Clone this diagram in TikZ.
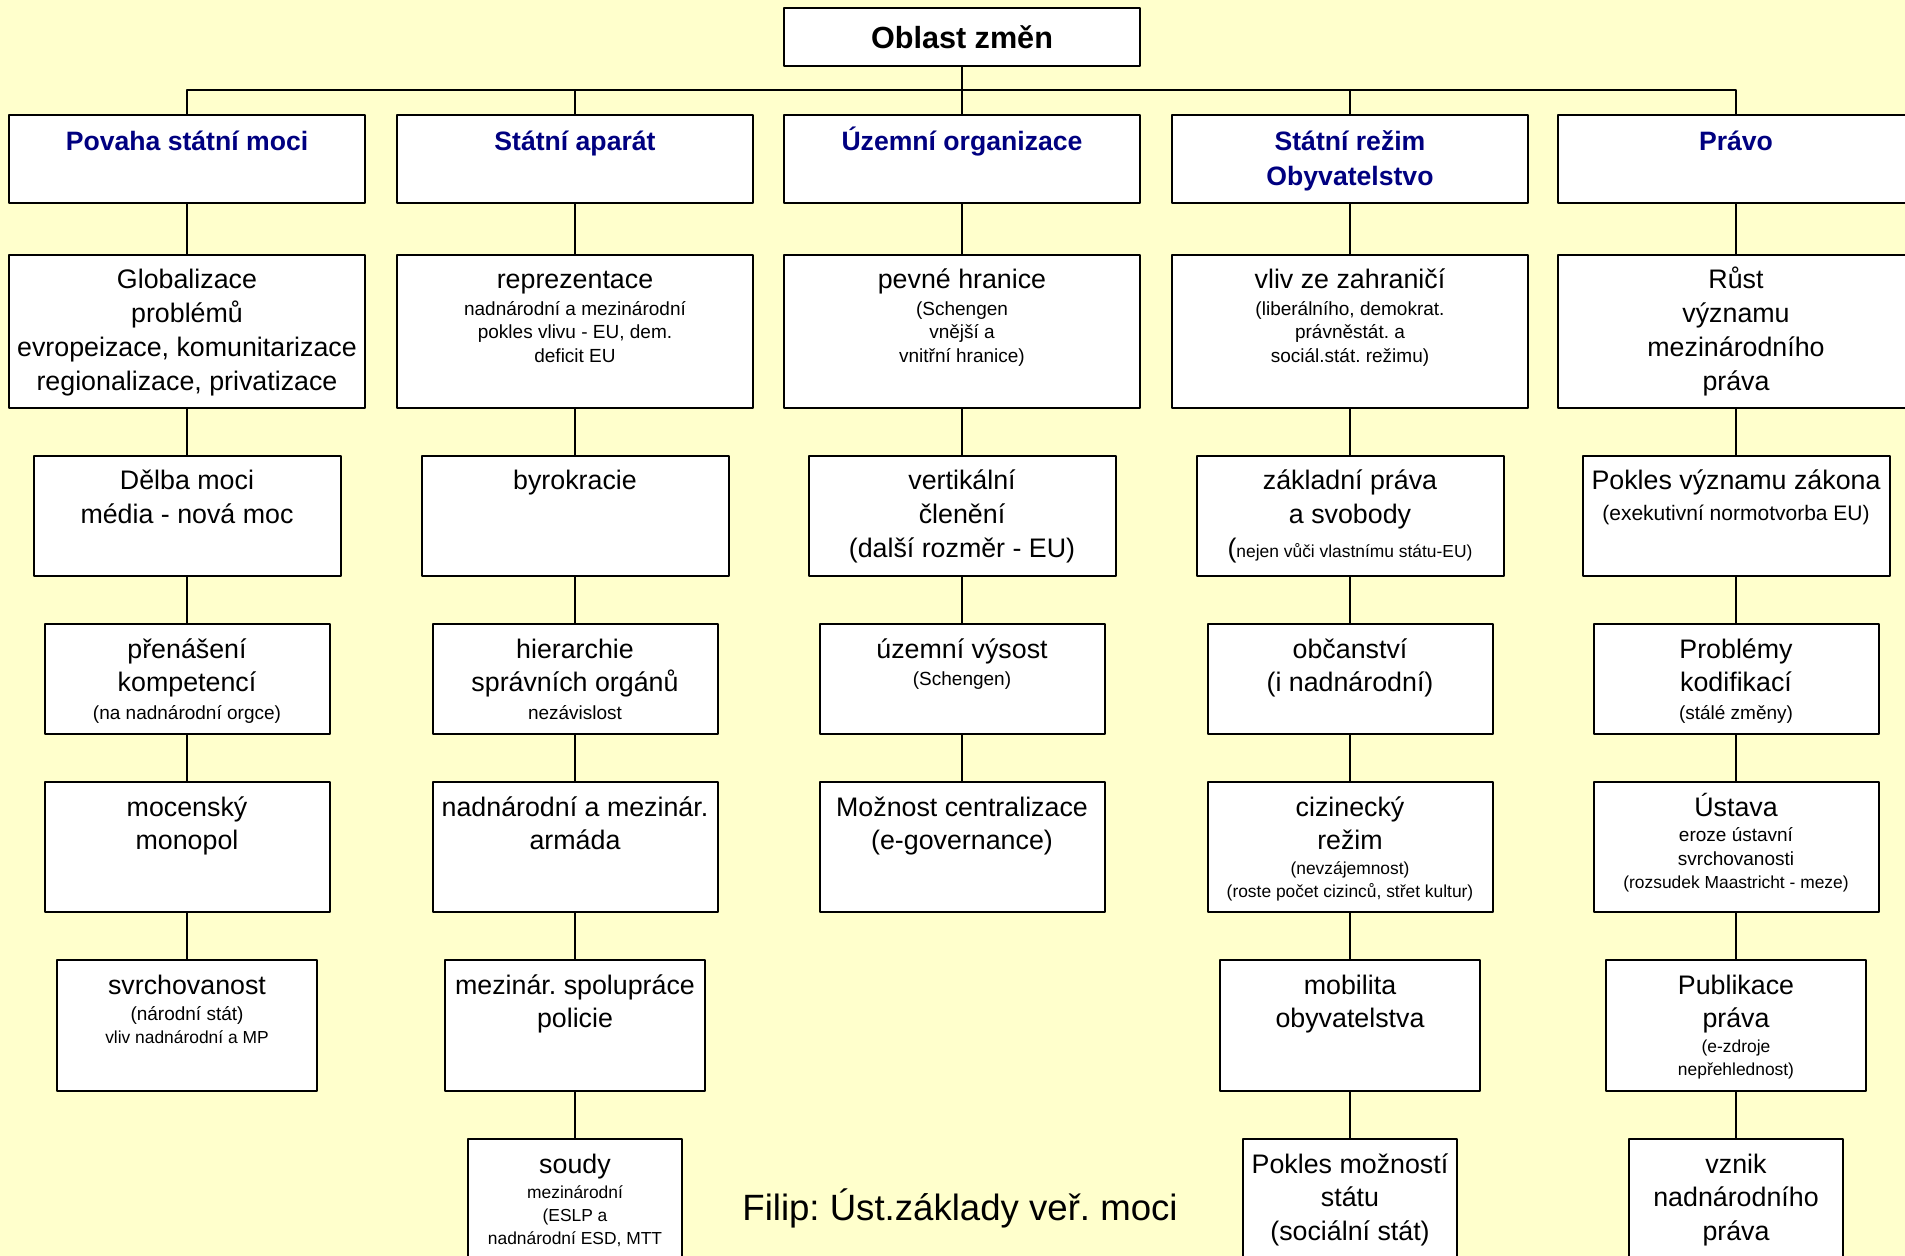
\documentclass[tikz,border=0pt]{standalone}
\usepackage{fontspec}
\setmainfont{Liberation Sans}
\frenchspacing
\definecolor{bgyellow}{HTML}{FFFFCC}
\definecolor{headblue}{HTML}{000080}
\newcommand{\bigtxt}{\fontsize{13.4pt}{16.9pt}\selectfont}
\newcommand{\midtxt}{\fontsize{10.5pt}{13pt}\selectfont}
\newcommand{\smtxt}{\fontsize{9.5pt}{11.75pt}\selectfont}
\newcommand{\tinytxt}{\fontsize{8.7pt}{11.5pt}\selectfont}
\newcommand{\headtxt}{\fontsize{13.3pt}{17.5pt}\selectfont\bfseries\color{headblue}}
\newcommand{\cbox}[4][17pt]{\parbox[c][\dimexpr#3pt/2\relax][t]{\dimexpr#2pt/2\relax}{\centering\bigtxt\rule{0pt}{#1}#4}}

\begin{document}
\begin{tikzpicture}[x=0.5pt, y=-0.5pt, line cap=round, line join=round]
	\tikzset{cell/.style={draw, fill=white, line width=1pt, inner sep=0pt, anchor=north}}
	\tikzset{link/.style={line width=0.75pt}}
	\useasboundingbox (0,0) rectangle (1905,1256);
	\fill[bgyellow] (0,0) rectangle (1905,1256);
	\clip (0,0) rectangle (1905,1256);

	\node[cell, anchor=center, minimum width=178pt, minimum height=29pt, font=\fontsize{15.3pt}{18pt}\selectfont\bfseries] (oblast) at (962,37) {Oblast změn};
	\coordinate (bus) at (962,90);

	\node[cell] (povaha) at (187,114) {\cbox[18pt]{356}{88}{\headtxt Povaha státní moci}};
	\node[cell] (aparat) at (575,114) {\cbox[18pt]{356}{88}{\headtxt Státní aparát}};
	\node[cell] (uzemi) at (962,114) {\cbox[18pt]{356}{88}{\headtxt Územní organizace}};
	\node[cell] (rezim) at (1350,114) {\cbox[18pt]{356}{88}{\headtxt Státní režim\\Obyvatelstvo}};
	\node[cell] (pravo) at (1736,114) {\cbox[18pt]{356}{88}{\headtxt Právo}};

	\node[cell] (pov1) at (187,254) {\cbox{356}{153}{Globalizace\\problémů\\evropeizace, komunitarizace\\regionalizace, privatizace}};
	\node[cell] (apa1) at (575,254) {\cbox{356}{153}{reprezentace\\[1.5pt]\smtxt nadnárodní a mezinárodní\\pokles vlivu - EU, dem.\\deficit EU}};
	\node[cell] (uze1) at (962,254) {\cbox{356}{153}{pevné hranice\\[1.5pt]\smtxt (Schengen\\vnější a\\vnitřní hranice)}};
	\node[cell] (rez1) at (1350,254) {\cbox{356}{153}{vliv ze zahraničí\\[1.5pt]\smtxt (liberálního, demokrat.\\právněstát. a\\sociál.stát. režimu)}};
	\node[cell] (pra1) at (1736,254) {\cbox{356}{153}{Růst\\významu\\mezinárodního\\práva}};

	\node[cell] (pov2) at (187,455) {\cbox{307}{120}{Dělba moci\\média - nová moc}};
	\node[cell] (apa2) at (575,455) {\cbox{307}{120}{byrokracie}};
	\node[cell] (uze2) at (962,455) {\cbox{307}{120}{vertikální\\členění\\(další rozměr - EU)}};
	\node[cell] (rez2) at (1350,455) {\cbox{307}{120}{základní práva\\a svobody\\({\tinytxt nejen vůči vlastnímu státu-EU)}}};
	\node[cell] (pra2) at (1736,455) {\cbox{307}{120}{Pokles významu zákona\\[2.5pt]\midtxt (exekutivní normotvorba EU)}};

	\node[cell] (pov3) at (187,623) {\cbox{285}{110}{přenášení\\kompetencí\\[2pt]\smtxt (na nadnárodní orgce)}};
	\node[cell] (apa3) at (575,623) {\cbox{285}{110}{hierarchie\\správních orgánů\\[2pt]\smtxt nezávislost}};
	\node[cell] (uze3) at (962,623) {\cbox{285}{110}{územní výsost\\[2pt]\smtxt (Schengen)}};
	\node[cell] (rez3) at (1350,623) {\cbox{285}{110}{občanství\\(i nadnárodní)}};
	\node[cell] (pra3) at (1736,623) {\cbox{285}{110}{Problémy\\kodifikací\\[2pt]\smtxt (stálé změny)}};

	\node[cell] (pov4) at (187,781) {\cbox{285}{130}{mocenský\\monopol}};
	\node[cell] (apa4) at (575,781) {\cbox{285}{130}{nadnárodní a mezinár.\\armáda}};
	\node[cell] (uze4) at (962,781) {\cbox{285}{130}{Možnost centralizace\\(e-governance)}};
	\node[cell] (rez4) at (1350,781) {\cbox{285}{130}{cizinecký\\režim\\[1pt]\tinytxt (nevzájemnost)\\(roste počet cizinců, střet kultur)}};
	\node[cell] (pra4) at (1736,781) {\cbox{285}{130}{Ústava\\[1pt]\smtxt eroze ústavní\\svrchovanosti\\\tinytxt (rozsudek Maastricht - meze)}};

	\node[cell] (pov5) at (187,959) {\cbox{260}{131}{svrchovanost\\[1.5pt]\smtxt (národní stát)\\\tinytxt vliv nadnárodní a MP}};
	\node[cell] (apa5) at (575,959) {\cbox{260}{131}{mezinár. spolupráce\\policie}};
	\node[cell] (rez5) at (1350,959) {\cbox{260}{131}{mobilita\\obyvatelstva}};
	\node[cell] (pra5) at (1736,959) {\cbox{260}{131}{Publikace\\práva\\[1pt]\tinytxt (e-zdroje\\nepřehlednost)}};

	\node[cell] (apa6) at (575,1138) {\cbox{214}{140}{soudy\\[1pt]\tinytxt mezinárodní\\(ESLP a\\nadnárodní ESD, MTT}};
	\node[cell] (rez6) at (1350,1138) {\cbox{214}{140}{Pokles možností\\státu\\(sociální stát)}};
	\node[cell] (pra6) at (1736,1138) {\cbox{214}{140}{vznik\\nadnárodního\\práva}};

	\node[anchor=base, inner sep=0pt, font=\fontsize{18.3pt}{22pt}\selectfont] (podpis) at (960,1220) {Filip: Úst.základy veř. moci};

	\draw[link] (oblast) -- (bus);
	\foreach \h in {povaha,aparat,uzemi,rezim,pravo}
		\draw[link] (\h.north) |- (bus);
	\foreach \a/\b in {povaha/pov1,pov1/pov2,pov2/pov3,pov3/pov4,pov4/pov5,
		aparat/apa1,apa1/apa2,apa2/apa3,apa3/apa4,apa4/apa5,apa5/apa6,
		uzemi/uze1,uze1/uze2,uze2/uze3,uze3/uze4,
		rezim/rez1,rez1/rez2,rez2/rez3,rez3/rez4,rez4/rez5,rez5/rez6,
		pravo/pra1,pra1/pra2,pra2/pra3,pra3/pra4,pra4/pra5,pra5/pra6}
		\draw[link] (\a) -- (\b);
\end{tikzpicture}
\end{document}
